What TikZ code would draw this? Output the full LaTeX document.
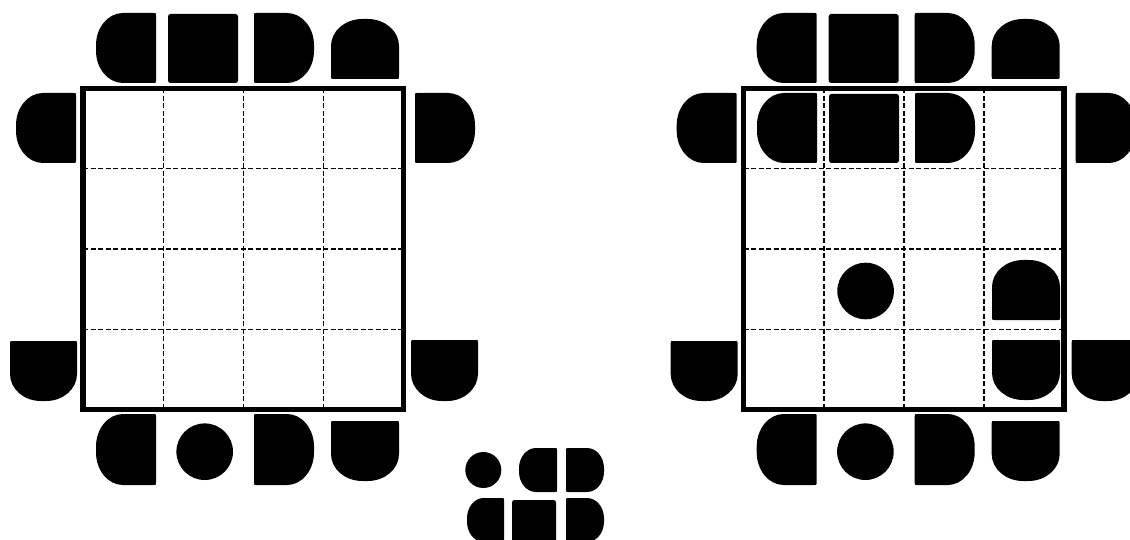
\documentclass[tikz,border=0pt]{standalone}
\begin{document}
\def\pkk{0.5523}
\def\prr{2.5}
\def\pfr{0.45}% corner radius along the rounded direction, as a fraction of that extent
\def\pfo{0.46}% corner radius along the other direction, as a fraction of that extent
\newcommand{\psetLR}[4]{\pgfmathsetmacro\pA{\pfr*(#3-#1)}\pgfmathsetmacro\pB{\pfo*(#4-#2)}\pgfmathsetmacro\pAk{(1-\pkk)*\pA}\pgfmathsetmacro\pBk{(1-\pkk)*\pB}}
\newcommand{\psetTB}[4]{\pgfmathsetmacro\pA{\pfo*(#3-#1)}\pgfmathsetmacro\pB{\pfr*(#4-#2)}\pgfmathsetmacro\pAk{(1-\pkk)*\pA}\pgfmathsetmacro\pBk{(1-\pkk)*\pB}}
% rounded left side (C)
\newcommand{\pcL}[4]{\psetLR{#1}{#2}{#3}{#4}%
 \fill ({#1+\pA},#2) -- ({#3-\prr},#2) .. controls (#3,#2) .. (#3,{#2+\prr}) -- (#3,{#4-\prr}) .. controls (#3,#4) .. ({#3-\prr},#4) -- ({#1+\pA},#4) .. controls ({#1+\pAk},#4) and (#1,{#4-\pBk}) .. (#1,{#4-\pB}) -- (#1,{#2+\pB}) .. controls (#1,{#2+\pBk}) and ({#1+\pAk},#2) .. ({#1+\pA},#2) -- cycle;}
% rounded right side (D)
\newcommand{\pcR}[4]{\psetLR{#1}{#2}{#3}{#4}%
 \fill ({#3-\pA},#2) -- ({#1+\prr},#2) .. controls (#1,#2) .. (#1,{#2+\prr}) -- (#1,{#4-\prr}) .. controls (#1,#4) .. ({#1+\prr},#4) -- ({#3-\pA},#4) .. controls ({#3-\pAk},#4) and (#3,{#4-\pBk}) .. (#3,{#4-\pB}) -- (#3,{#2+\pB}) .. controls (#3,{#2+\pBk}) and ({#3-\pAk},#2) .. ({#3-\pA},#2) -- cycle;}
% rounded top (dome)
\newcommand{\pcT}[4]{\psetTB{#1}{#2}{#3}{#4}%
 \fill (#1,{#2+\pB}) -- (#1,{#4-\prr}) .. controls (#1,#4) .. ({#1+\prr},#4) -- ({#3-\prr},#4) .. controls (#3,#4) .. (#3,{#4-\prr}) -- (#3,{#2+\pB}) .. controls (#3,{#2+\pBk}) and ({#3-\pAk},#2) .. ({#3-\pA},#2) -- ({#1+\pA},#2) .. controls ({#1+\pAk},#2) and (#1,{#2+\pBk}) .. (#1,{#2+\pB}) -- cycle;}
% rounded bottom (U)
\newcommand{\pcB}[4]{\psetTB{#1}{#2}{#3}{#4}%
 \fill (#1,{#4-\pB}) -- (#1,{#2+\prr}) .. controls (#1,#2) .. ({#1+\prr},#2) -- ({#3-\prr},#2) .. controls (#3,#2) .. (#3,{#2+\prr}) -- (#3,{#4-\pB}) .. controls (#3,{#4-\pBk}) and ({#3-\pAk},#4) .. ({#3-\pA},#4) -- ({#1+\pA},#4) .. controls ({#1+\pAk},#4) and (#1,{#4-\pBk}) .. (#1,{#4-\pB}) -- cycle;}
% square
\newcommand{\pcS}[4]{\fill[rounded corners=2.5pt] (#1,#2) rectangle (#3,#4);}
% circle
\newcommand{\pcO}[3]{\fill (#1,#2) circle[radius=#3pt];}
% grid
\newcommand{\pgrid}[1]{%
 \begin{scope}[xshift=#1pt]
 \foreach \gx in {163.3,243.3,323.3} \draw[gridline] (\gx,88.5) -- (\gx,409.5);
 \foreach \gy in {168.75,249,329.25} \draw[gridline] (83,\gy) -- (403.3,\gy);
 \draw[border] (83,88.5) rectangle (403.3,409.5);
 \end{scope}}
% outer pieces
\newcommand{\pouter}[1]{%
 \begin{scope}[xshift=#1pt]
 \pcL{96}{13}{156}{83}
 \pcS{168}{14}{238}{83}
 \pcR{254}{13}{314}{83}
 \pcT{331}{19}{399}{79}
 \pcL{16}{93}{76}{163}
 \pcB{10}{341}{77}{401}
 \pcR{415}{93}{475}{163}
 \pcB{411}{340}{478}{401}
 \pcL{96}{414}{156}{485}
 \pcO{204.7}{451.7}{28.3}
 \pcR{254}{414}{314}{485}
 \pcB{331}{421}{399}{481}
 \end{scope}}
\begin{tikzpicture}[x=1pt,y=-1pt,
  gridline/.style={line width=1.5pt,dash pattern=on 5pt off 2.5pt},
  border/.style={line width=5.5pt,line join=miter}]
\useasboundingbox (0,0) rectangle (1130,540);
\fill[white] (0,0) rectangle (1130,540);
\clip (0,0) rectangle (1130,540);
% left board
\pgrid{0}
\pouter{0}
% right board
\pgrid{660.7}
\pouter{660.7}
\pcL{757}{93}{817}{163}
\pcS{829}{94}{899}{163}
\pcR{915}{93}{975}{163}
\pcO{865.6}{291}{28.3}
\pcT{992}{260}{1060}{320}
\pcB{992}{340}{1060}{400}
% small cluster
\pcO{483.3}{470}{18}
\pcL{519}{448}{557}{492}
\pcR{566}{448}{604}{492}
\pcL{467}{498}{504}{542}
\pcS{512}{500}{556}{543}
\pcR{566}{498}{604}{542}
\end{tikzpicture}
\end{document}
